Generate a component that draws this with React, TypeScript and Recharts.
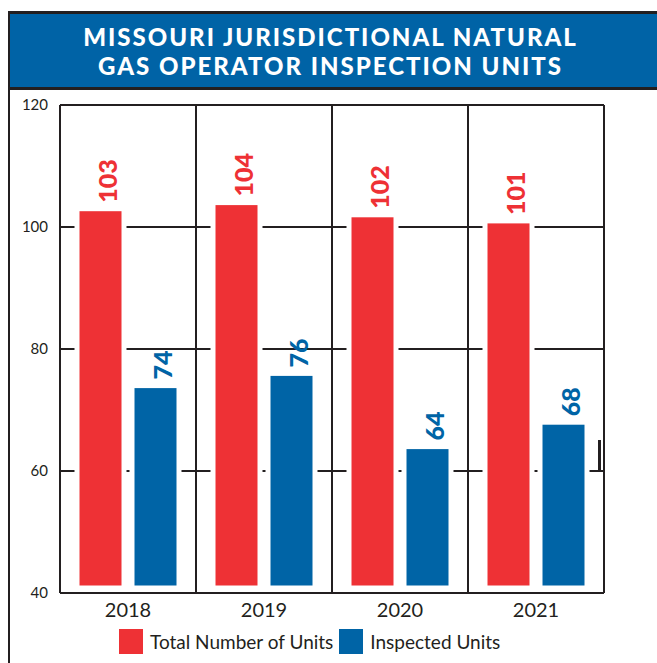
import { BarChart, Bar, XAxis, YAxis, CartesianGrid, Legend, LabelList } from 'recharts';

const years = ['2018', '2019', '2020', '2021'];
const totalUnits = [103, 104, 102, 101];
const inspectedUnits = [74, 76, 64, 68];
const yTicks = [40, 60, 80, 100, 120];

const data = years.map((year, i) => ({ year, total: totalUnits[i], inspected: inspectedUnits[i] }));

const RED = '#ee3135';
const BLUE = '#0064a6';
const INK = '#231f20';
const FONT = 'Lato, "Open Sans", sans-serif';

// bars stop a little above the baseline and carry a white outline that cuts the grid
function TrimmedBar(props: any) {
  const { x, y, width, height, fill } = props;
  return (
    <rect x={x} y={y} width={width} height={Math.max(height - 5, 0)} fill={fill} stroke="#fff" strokeWidth={5} />
  );
}

const makeLabel = (color: string) => (props: any) => {
  const { x, y, width, value } = props;
  const cx = x + width / 2 + 7;
  const cy = y - 6;
  return (
    <text
      x={cx}
      y={cy}
      transform={`rotate(-90, ${cx}, ${cy})`}
      textAnchor="start"
      dominantBaseline="central"
      fill={color}
      fontSize={25}
      fontWeight={900}
      fontFamily={FONT}
    >
      {value}
    </text>
  );
};

function LegendBox() {
  const item = (color: string, text: string) => (
    <span style={{ display: 'flex', alignItems: 'center', marginRight: 6 }}>
      <span style={{ width: 24, height: 25, background: color, marginRight: 7, display: 'inline-block' }} />
      <span>{text}</span>
    </span>
  );
  return (
    <div
      style={{
        display: 'flex',
        alignItems: 'center',
        height: 35,
        paddingLeft: 119,
        paddingBottom: 9,
        boxSizing: 'border-box',
        fontFamily: FONT,
        fontSize: 19,
        color: INK,
      }}
    >
      {item(RED, 'Total Number of Units')}
      {item(BLUE, 'Inspected Units')}
    </div>
  );
}

export default function App() {
  return (
    <div style={{ position: 'absolute', left: 0, top: 0, width: 657, height: 663, background: '#fff', overflow: 'hidden' }}>
      <div style={{ position: 'absolute', left: 0, top: 0 }}>
        <BarChart
          width={657}
          height={663}
          data={data}
          margin={{ top: 105, right: 53, bottom: 0, left: 8 }}
          barSize={47}
          barGap={8}
        >
          <CartesianGrid
            stroke={INK}
            strokeWidth={2}
            verticalCoordinatesGenerator={({ offset }: any) =>
              [0, 1, 2, 3, 4].map((i) => offset.left + (i * offset.width) / years.length)
            }
          />
          <XAxis
            dataKey="year"
            axisLine={false}
            tickLine={false}
            tickSize={0}
            tickMargin={10}
            height={35}
            tick={{ fill: INK, fontSize: 20, fontFamily: FONT }}
          />
          <YAxis
            domain={[40, 120]}
            ticks={yTicks}
            axisLine={false}
            tickLine={false}
            tickSize={0}
            tickMargin={12}
            width={52}
            tick={{ fill: INK, fontSize: 15, fontFamily: FONT }}
          />
          <Legend verticalAlign="bottom" height={35} wrapperStyle={{ left: 0, width: 657 }} content={() => <LegendBox />} />
          <Bar dataKey="total" name="Total Number of Units" fill={RED} shape={<TrimmedBar />} isAnimationActive={false}>
            <LabelList dataKey="total" content={makeLabel(RED)} />
          </Bar>
          <Bar dataKey="inspected" name="Inspected Units" fill={BLUE} shape={<TrimmedBar />} isAnimationActive={false}>
            <LabelList dataKey="inspected" content={makeLabel(BLUE)} />
          </Bar>
        </BarChart>
      </div>

      {/* frame and title banner */}
      <div style={{ position: 'absolute', left: 8, top: 11, width: 2, height: 652, background: INK }} />
      <div style={{ position: 'absolute', left: 8, top: 11, width: 649, height: 3, background: INK }} />
      <div
        style={{
          position: 'absolute',
          left: 10,
          top: 14,
          width: 647,
          height: 76,
          background: '#0063a6',
          borderBottom: `3px solid ${INK}`,
          color: '#fff',
          fontFamily: FONT,
          fontWeight: 900,
          fontSize: 24,
          letterSpacing: 2,
          lineHeight: '29px',
          textAlign: 'center',
          paddingTop: 8,
          boxSizing: 'border-box',
          paddingRight: 6,
        }}
      >
        <div>MISSOURI JURISDICTIONAL NATURAL</div>
        <div>GAS OPERATOR INSPECTION UNITS</div>
      </div>
      <div style={{ position: 'absolute', left: 598, top: 440, width: 3, height: 32, background: INK }} />
    </div>
  );
}
